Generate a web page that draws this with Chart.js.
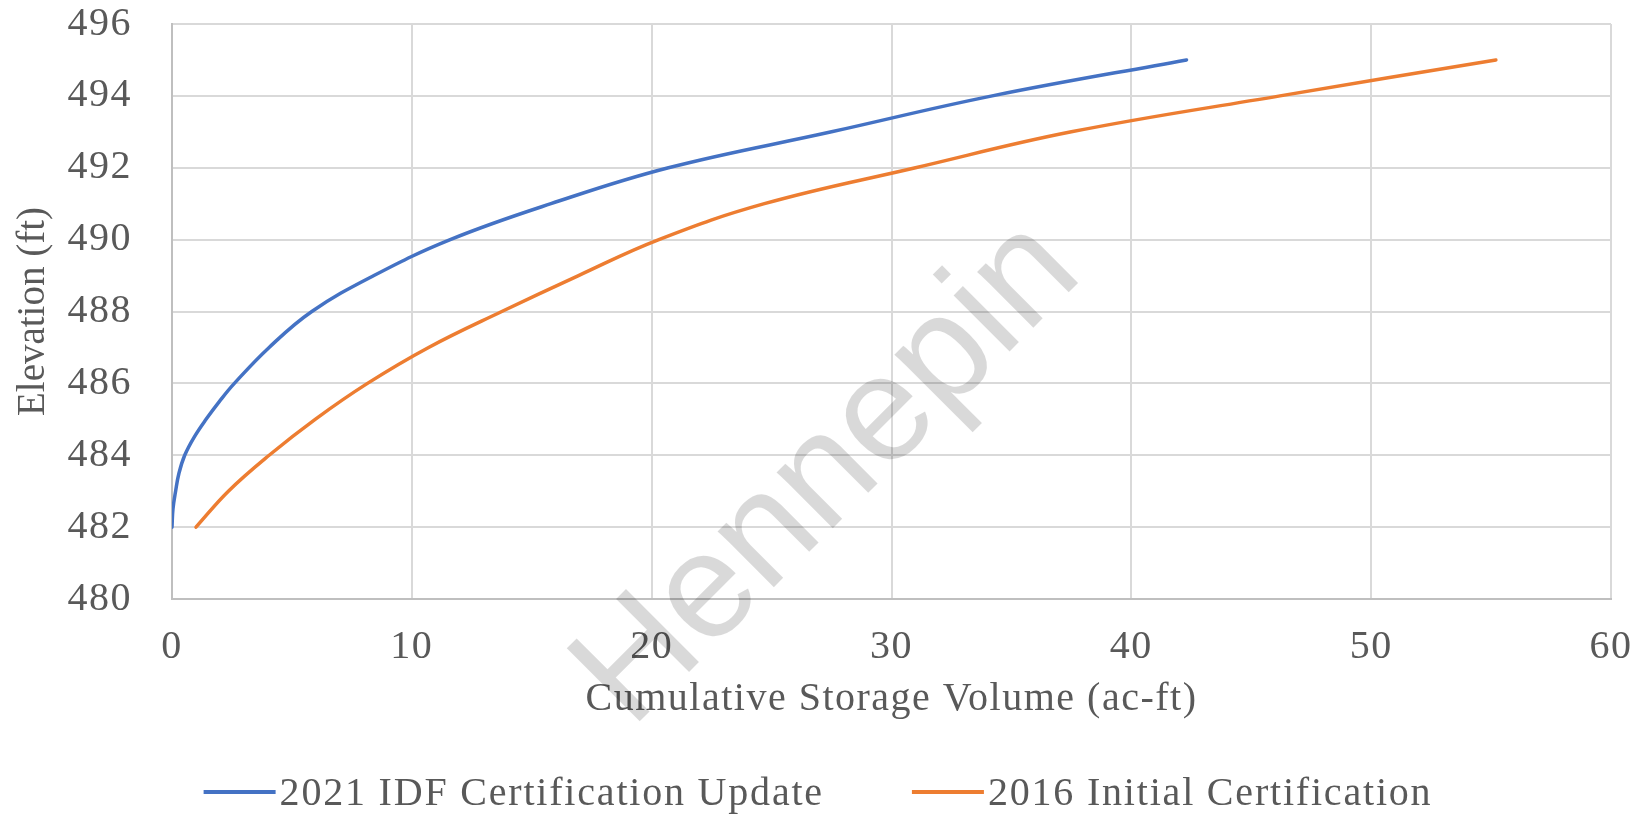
<!DOCTYPE html>
<html>
<head>
<meta charset="utf-8">
<script src="https://cdn.jsdelivr.net/npm/chart.js@4.4.1/dist/chart.umd.min.js"></script>
<style>
  html, body { margin: 0; padding: 0; background: #fff; }
  #wrap { width: 1648px; height: 816px; }
</style>
</head>
<body>
<div id="wrap"><canvas id="chart" width="1648" height="816"></canvas></div>
<script>
// Data (volume in ac-ft, elevation in ft)
const seriesNames = ['2021 IDF Certification Update', '2016 Initial Certification'];
const seriesColors = ['#4472C4', '#ED7D31'];
const volume2021 = [0, 0.04, 0.15, 0.29, 0.53, 0.92, 1.42, 1.98, 2.6, 4.05, 5.83, 8.42, 11.6, 15.8, 20.7, 27.5, 34.2, 42.3];
const elev2021 = [482, 482.5, 483, 483.5, 484, 484.5, 485, 485.5, 486, 487, 488, 489, 490, 491, 492, 493, 494, 495];
const volume2016 = [1.0, 2.35, 4.05, 5.97, 8.15, 10.7, 13.75, 16.95, 20.3, 24.7, 31.0, 37.5, 46.2, 55.2];
const elev2016 = [482, 483, 484, 485, 486, 487, 488, 489, 490, 491, 492, 493, 494, 495];
const xRange = [0, 60], xStep = 10;
const yRange = [480, 496], yStep = 2;

const textColor = '#595959';
const serif = '"Liberation Serif", "Times New Roman", serif';

function toPoints(xs, ys) {
    return xs.map((x, i) => ({ x: x, y: ys[i] }));
}

// the Excel text is set a little looser than the canvas default
const spacing = {
    id: 'spacing',
    beforeLayout(chart) { chart.ctx.letterSpacing = '1.5px'; },
    beforeDraw(chart) { chart.ctx.letterSpacing = '1.5px'; }
};

// Watermark over the whole chart
const watermark = {
    id: 'watermark',
    afterDraw(chart) {
        const ctx = chart.ctx;
        ctx.save();
        ctx.letterSpacing = '0px';
        ctx.translate(858, 503);
        ctx.rotate(-45 * Math.PI / 180);
        ctx.font = '150px "Liberation Sans", Arial, sans-serif';
        ctx.fillStyle = 'rgba(0, 0, 0, 0.15)';
        ctx.textAlign = 'center';
        ctx.textBaseline = 'alphabetic';
        ctx.fillText('Hennepin', 0, 0);
        ctx.restore();
    }
};

// Excel-style legend: short line then label, centred under the chart
const bottomLegend = {
    id: 'bottomLegend',
    afterDraw(chart) {
        const ctx = chart.ctx;
        const lineLen = 72, lineGap = 4, itemGap = 88, y = 792;
        ctx.save();
        ctx.letterSpacing = '1.8px';
        ctx.font = '40px ' + serif;
        ctx.textBaseline = 'middle';
        ctx.textAlign = 'left';
        const widths = chart.data.datasets.map(ds => lineLen + lineGap + ctx.measureText(ds.label).width);
        const total = widths.reduce((a, b) => a + b, 0) + itemGap * (widths.length - 1);
        let x = 818 - total / 2;
        chart.data.datasets.forEach((ds, i) => {
            ctx.strokeStyle = ds.borderColor;
            ctx.lineWidth = 4;
            ctx.beginPath();
            ctx.moveTo(x, y);
            ctx.lineTo(x + lineLen, y);
            ctx.stroke();
            ctx.fillStyle = textColor;
            ctx.fillText(ds.label, x + lineLen + lineGap, y + 2);
            x += widths[i] + itemGap;
        });
        ctx.restore();
    }
};

const chart = new Chart(document.getElementById('chart'), {
    type: 'scatter',
    data: {
        datasets: [
            { label: seriesNames[0], data: toPoints(volume2021, elev2021), borderColor: seriesColors[0], backgroundColor: seriesColors[0] },
            { label: seriesNames[1], data: toPoints(volume2016, elev2016), borderColor: seriesColors[1], backgroundColor: seriesColors[1] }
        ]
    },
    options: {
        responsive: false,
        animation: false,
        showLine: true,
        elements: {
            point: { radius: 0, hoverRadius: 0 },
            line: { borderWidth: 3.5, tension: 0.4, borderCapStyle: 'round' }
        },
        layout: { padding: { top: 24, right: 37, bottom: 51, left: 0 } },
        plugins: {
            legend: { display: false },
            tooltip: { enabled: false }
        },
        scales: {
            x: {
                type: 'linear',
                min: xRange[0], max: xRange[1],
                ticks: { stepSize: xStep, color: textColor, font: { family: serif, size: 40 }, padding: 24, maxRotation: 0, autoSkip: false },
                grid: { color: '#d9d9d9', lineWidth: 2, drawTicks: false },
                border: { color: '#bfbfbf', width: 2 },
                title: { display: true, text: 'Cumulative Storage Volume (ac-ft)', color: textColor, font: { family: serif, size: 40 }, padding: { top: 0, bottom: 42 } },
                afterFit: s => { s.height = 166; s.paddingLeft = 0; s.paddingRight = 0; }
            },
            y: {
                min: yRange[0], max: yRange[1],
                ticks: { stepSize: yStep, color: textColor, font: { family: serif, size: 40 }, padding: 40 },
                grid: { color: '#d9d9d9', lineWidth: 2, drawTicks: false },
                border: { color: '#bfbfbf', width: 2 },
                title: { display: true, text: 'Elevation (ft)', color: textColor, font: { family: serif, size: 39 }, padding: { top: 10, bottom: 0 } },
                afterFit: s => {
                    s.width = 172; s.paddingTop = 0; s.paddingBottom = 0;
                    // rotated title is set tight in the original
                    const draw = Object.getPrototypeOf(s).drawTitle;
                    s.drawTitle = function () {
                        this.ctx.save();
                        this.ctx.letterSpacing = '0px';
                        draw.call(this);
                        this.ctx.restore();
                    };
                }
            }
        }
    },
    plugins: [spacing, watermark, bottomLegend]
});
</script>
</body>
</html>
